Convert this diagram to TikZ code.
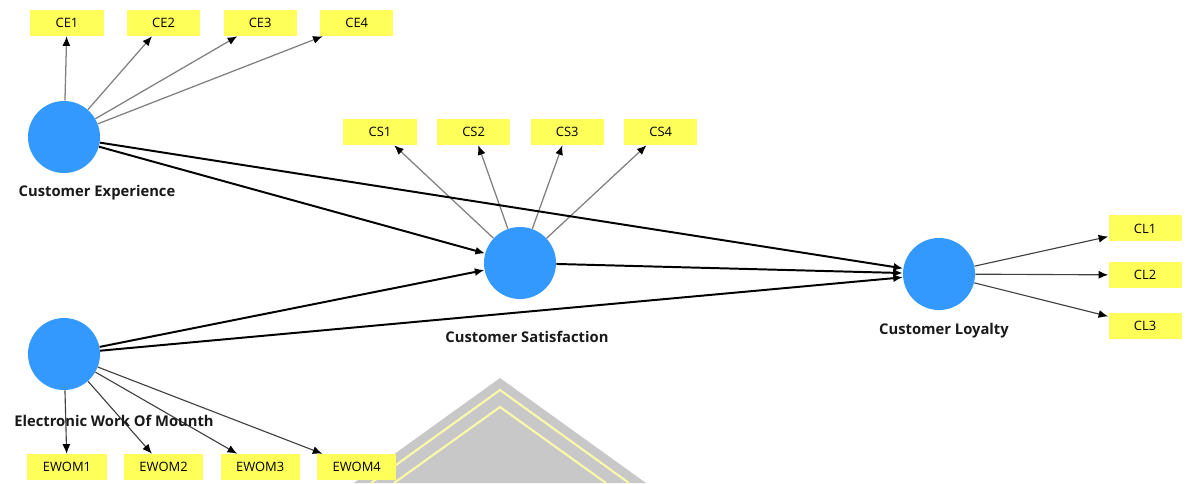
\documentclass[tikz,border=0pt]{standalone}
\usepackage{fontspec}
\setmainfont{Open Sans}
\usetikzlibrary{arrows.meta,positioning}
\definecolor{lvblue}{RGB}{51,153,255}
\definecolor{indyellow}{RGB}{255,255,90}
\definecolor{wmgray}{RGB}{200,200,200}
\definecolor{wmyellow}{RGB}{250,250,170}

\begin{document}
\begin{tikzpicture}[x=0.025cm,y=-0.025cm,>={Latex[length=2.4mm,width=2mm]}]
  \tikzstyle{lv}=[circle,fill=lvblue,minimum size=1.8cm,inner sep=0pt]
  \tikzstyle{ind}=[fill=indyellow,minimum width=1.825cm,minimum height=0.65cm,inner sep=0pt,font=\fontsize{9.2}{11}\selectfont]
  \tikzstyle{lvname}=[font=\fontsize{10.5}{12}\selectfont\bfseries,text=black!90]
  \tikzstyle{inner}=[line width=1.4pt,->]
  \tikzstyle{outer}=[draw=gray,line width=0.9pt,-{Latex[length=2.4mm,width=2mm,color=black]}]
  \tikzstyle{outerdark}=[draw=black!75,line width=0.8pt,-{Latex[length=2.4mm,width=2mm,color=black]}]
  \useasboundingbox (0,0) rectangle (1190,483);
  % watermark in the background
  \fill[wmgray] (500,378) -- (354,483) -- (646,483) -- cycle;
  \draw[wmyellow,line width=1.5pt] (371,483) -- (500,390) -- (629,483);
  \draw[wmyellow,line width=1.5pt] (394,483) -- (500,407) -- (606,483);
  % latent variables
  \node[lv] (ce) at (64,137) {};
  \node[lv] (ewom) at (64,354) {};
  \node[lv] (cs) at (520,263) {};
  \node[lv] (cl) at (939,274) {};
  % indicators
  \node[ind] (ce1) at (67,23) {CE1};
  \node[ind,right=0.575cm of ce1] (ce2) {CE2};
  \node[ind,right=0.575cm of ce2] (ce3) {CE3};
  \node[ind,right=0.575cm of ce3] (ce4) {CE4};
  \node[ind] (cs1) at (380,132) {CS1};
  \node[ind,right=0.5cm of cs1] (cs2) {CS2};
  \node[ind,right=0.5cm of cs2] (cs3) {CS3};
  \node[ind,right=0.5cm of cs3] (cs4) {CS4};
  \node[ind] (cl2) at (1145,275) {CL2};
  \node[ind,above=0.5cm of cl2] (cl1) {CL1};
  \node[ind,below=0.6cm of cl2] (cl3) {CL3};
  \node[ind,minimum width=1.975cm] (ewom1) at (67,467) {EWOM1};
  \node[ind,minimum width=1.975cm,right=0.425cm of ewom1] (ewom2) {EWOM2};
  \node[ind,minimum width=1.975cm,right=0.425cm of ewom2] (ewom3) {EWOM3};
  \node[ind,minimum width=1.975cm,right=0.425cm of ewom3] (ewom4) {EWOM4};
  % loadings
  \foreach \i in {1,...,4} {
    \draw[outer] (ce) -- (ce\i);
    \draw[outer] (cs) -- (cs\i);
    \draw[outerdark] (ewom) -- (ewom\i);
  }
  \foreach \i in {1,2,3}
    \draw[outerdark] (cl) -- (cl\i);
  % structural paths
  \draw[inner] (ce) -- (cs);
  \draw[inner] (ce) -- (cl);
  \draw[inner] (ewom) -- (cs);
  \draw[inner] (ewom) -- (cl);
  \draw[inner] (cs) -- (cl);
  % names
  \node[lvname] (cename) at (97,193) {Customer Experience};
  \node[lvname] (csname) at (527,337) {Customer Satisfaction};
  \node[lvname] (clname) at (944,331) {Customer Loyalty};
  \node[lvname] (ewomname) at (114,421) {Electronic Work Of Mounth};
\end{tikzpicture}
\end{document}
